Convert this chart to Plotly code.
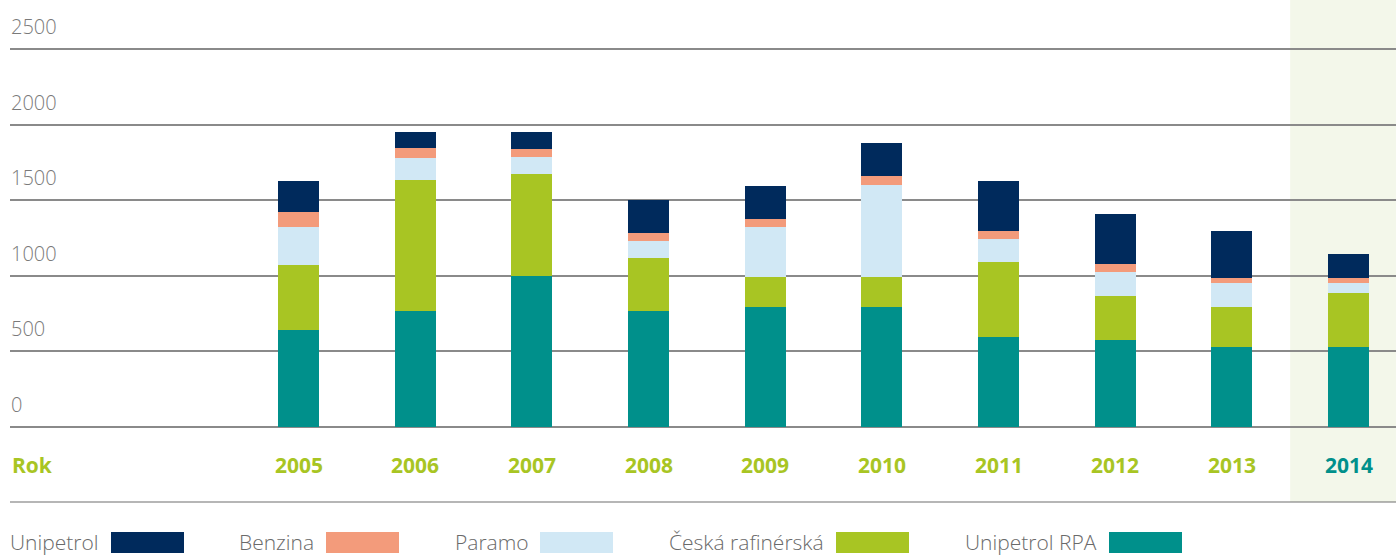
import plotly.graph_objects as go

years = ["2005", "2006", "2007", "2008", "2009", "2010", "2011", "2012", "2013", "2014"]
unipetrol_rpa = [641, 767, 1000, 767, 793, 793, 595, 575, 529, 529]
ceska_rafinerska = [430, 866, 672, 350, 198, 198, 496, 291, 264, 357]
paramo = [251, 145, 112, 112, 330, 608, 152, 159, 159, 66]
benzina = [99, 66, 53, 53, 53, 60, 53, 53, 33, 33]
unipetrol = [205, 106, 112, 218, 218, 218, 330, 330, 311, 159]
y_ticks = [0, 500, 1000, 1500, 2000, 2500]

series = [
    ("Unipetrol RPA", unipetrol_rpa, "#00908b"),
    ("Česká rafinérská", ceska_rafinerska, "#a8c523"),
    ("Paramo", paramo, "#d1e8f5"),
    ("Benzina", benzina, "#f39b7b"),
    ("Unipetrol", unipetrol, "#002a5c"),
]
legend_order = ["Unipetrol", "Benzina", "Paramo", "Česká rafinérská", "Unipetrol RPA"]
colors = {n: c for n, _, c in series}

FONT = "Open Sans"
fig = go.Figure()
for name, vals, col in series:
    fig.add_trace(go.Bar(x=list(range(len(years))), y=vals, name=name,
                         marker=dict(color=col, line=dict(width=0)),
                         width=0.351, showlegend=False, hoverinfo="skip"))

W, H = 1396, 556
ml, mt, mb = 10, 46, 126
ph = H - mt - mb

def py(pix):
    return (H - mb - pix) / ph

fig.update_layout(
    width=W, height=H, barmode="stack",
    margin=dict(l=ml, r=0, t=mt, b=mb),
    paper_bgcolor="white", plot_bgcolor="rgba(0,0,0,0)",
    showlegend=False,
    xaxis=dict(range=[-2.473, 9.407], showticklabels=False, showgrid=False,
               zeroline=False, ticks="", fixedrange=True),
    yaxis=dict(range=[-20, 2520], tickvals=y_ticks, showticklabels=False, showgrid=True,
               gridcolor="#8a8a8a", gridwidth=1.5, zeroline=False, ticks="", fixedrange=True),
    font=dict(family=FONT),
)

# highlight band for last year
fig.add_shape(type="rect", xref="x", yref="paper", x0=8.5, x1=9.407, y0=py(502), y1=py(0),
              fillcolor="#f3f7ea", line=dict(width=0), layer="below")
# lower separator line
fig.add_shape(type="line", xref="paper", yref="paper", x0=0, x1=1, y0=py(502), y1=py(502),
              line=dict(color="#6e6e6e", width=1.2))

# y tick labels above gridlines
for v in y_ticks:
    fig.add_annotation(x=0, xref="paper", y=v, yref="y", text=str(v), showarrow=False,
                       xanchor="left", yanchor="bottom", yshift=7, xshift=-1,
                       font=dict(family=FONT, size=20, color="#7a7a7a", weight=300))

# x labels
fig.add_annotation(x=0, xref="paper", y=py(465), yref="paper", text="<b>Rok</b>", showarrow=False,
                   xanchor="left", yanchor="middle", font=dict(family=FONT, size=21, color="#a8c523"))
for i, yr in enumerate(years):
    col = "#00908b" if i == len(years) - 1 else "#a8c523"
    fig.add_annotation(x=i, xref="x", y=py(465), yref="paper", text=f"<b>{yr}</b>", showarrow=False,
                       xanchor="center", yanchor="middle", font=dict(family=FONT, size=21, color=col))

# custom legend: text then swatch
legend_text_x = [10, 239, 455, 669, 965]
legend_sw_x = [111, 326, 540, 836, 1109]
for name, tx, sx in zip(legend_order, legend_text_x, legend_sw_x):
    fig.add_annotation(x=(tx - ml) / (W - ml), xref="paper", y=py(542), yref="paper", text=name,
                       showarrow=False, xanchor="left", yanchor="middle", xshift=-2,
                       font=dict(family=FONT, size=21, color="#6a6a6a", weight=300))
    fig.add_shape(type="rect", xref="paper", yref="paper",
                  x0=(sx - ml) / (W - ml), x1=(sx + 73 - ml) / (W - ml),
                  y0=py(553), y1=py(532), fillcolor=colors[name], line=dict(width=0))

fig.write_html("out.html", config={"displayModeBar": False},
               post_script="document.body.style.margin='0';document.body.style.overflow='hidden';")
